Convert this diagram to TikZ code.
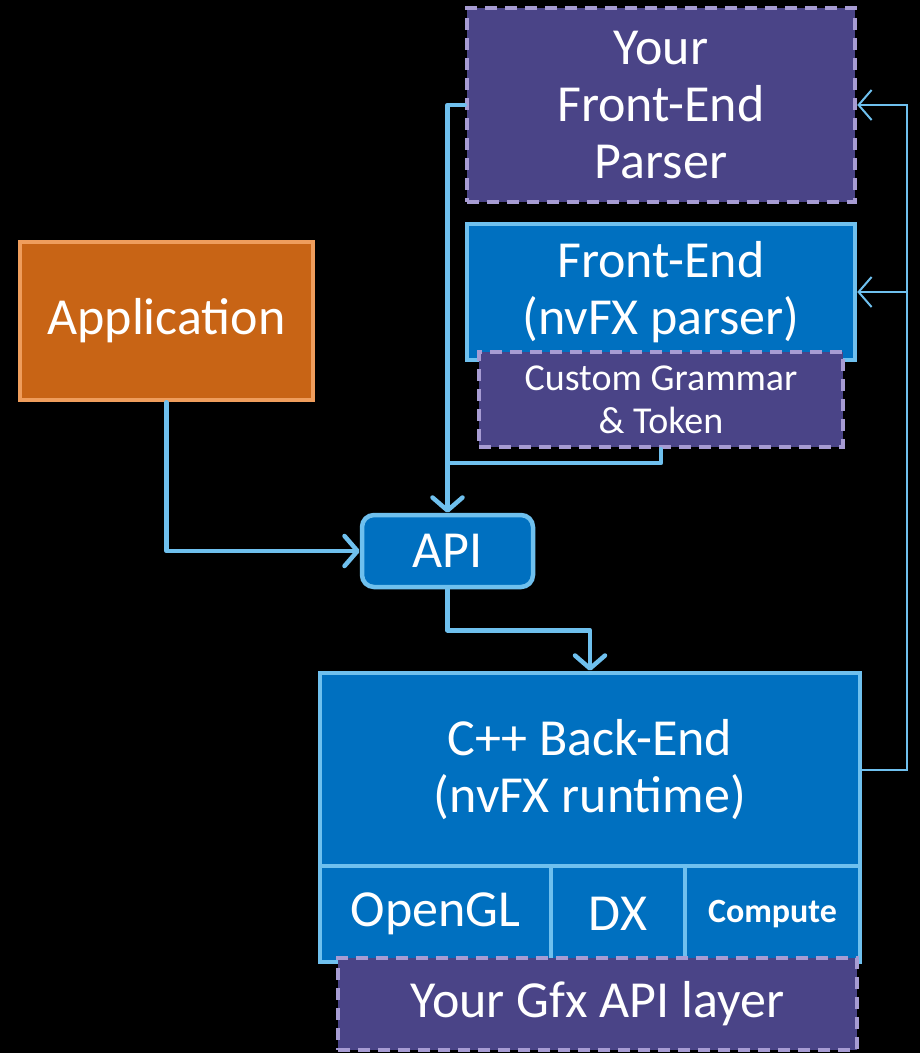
\documentclass[tikz,border=0pt]{standalone}
\usepackage{fontspec}
\setmainfont{Carlito}
\usetikzlibrary{arrows.meta}

\definecolor{bgblack}{HTML}{000000}
\definecolor{nvblue}{HTML}{0070C0}
\definecolor{nvedge}{HTML}{6FC0EE}
\definecolor{ownfill}{HTML}{4A4487}
\definecolor{ownedge}{HTML}{A79CD3}
\definecolor{appfill}{HTML}{C86415}
\definecolor{appedge}{HTML}{EF9D5C}

\newcommand{\bigtext}{\fontsize{52}{57}\selectfont}
\newcommand{\midtext}{\fontsize{38}{43}\selectfont}
\newcommand{\smalltext}{\fontsize{34}{40}\selectfont\bfseries}

\tikzset{
  box/.style={draw, line width=4.5pt, text=white, align=center, inner sep=0pt,
              font=\bigtext},
  nvbox/.style={box, fill=nvblue, draw=nvedge},
  ownbox/.style={box, fill=ownfill, draw=ownedge, dash pattern=on 12pt off 8pt},
  appbox/.style={box, fill=appfill, draw=appedge},
  link/.style={draw=nvedge, line width=4.5pt, line join=round, line cap=round,
               -{Straight Barb[length=13pt,width=30pt,round]}},
  feedback/.style={draw=nvedge, line width=2pt,
                   -{Straight Barb[length=13pt,width=30pt]}}
}

\begin{document}
\begin{tikzpicture}[x=1pt,y=-1pt]
  \fill[bgblack] (0,0) rectangle (920,1053);

  \node[ownbox, minimum width=388pt, minimum height=194pt] (parser)  at (661,105)
       {Your\\Front-End\\Parser};
  \node[nvbox,  minimum width=388pt, minimum height=136pt] (frontend) at (661,292)
       {Front-End\\(nvFX parser)};
  \node[ownbox, minimum width=364pt, minimum height=95pt, font=\midtext]
                                                           (grammar)  at (661,399.5)
       {Custom Grammar\\\& Token};
  \node[appbox, minimum width=293pt, minimum height=158pt] (app)     at (166.5,321)
       {Application};
  \node[nvbox, rounded corners=12pt, minimum width=171pt, minimum height=72pt]
                                                           (api)      at (447.5,551)
       {API};

  \node[nvbox, minimum width=540pt, minimum height=193pt] (backend)  at (590,769.5)
       {C++ Back-End\\(nvFX runtime)};
  \node[nvbox, minimum width=231pt, minimum height=96pt]  (opengl)   at (435.5,914)
       {OpenGL};
  \node[nvbox, minimum width=134pt, minimum height=96pt]  (dx)       at (618,914)
       {DX};
  \node[nvbox, minimum width=175pt, minimum height=96pt, font=\smalltext]
                                                           (compute)  at (772.5,914)
       {Compute};
  \node[ownbox, minimum width=519pt, minimum height=92pt] (gfx)      at (597.5,1004)
       {Your Gfx API layer};

  % data flow
  \coordinate (merge) at (447.5,463);
  \coordinate (rail)  at (907,292);
  \draw[link] (app.south) |- (api.west);
  \draw[link] (parser.west) -| (api.north);
  \draw[link, -] (grammar.south) |- (merge);
  \draw[link] (api.south) -- ++(0,41) -| (backend.north);

  % feedback to the parsers
  \draw[feedback] (backend.east) -- (907,769.5) |- (parser.east);
  \draw[feedback] (rail) -- (frontend.east);
\end{tikzpicture}
\end{document}
